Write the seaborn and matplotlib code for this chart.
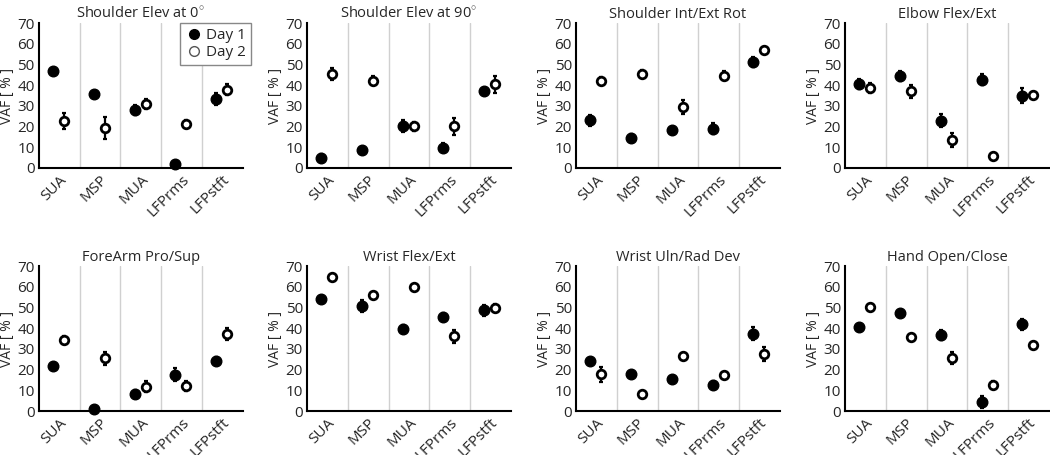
import matplotlib
matplotlib.use("Agg")
import matplotlib.pyplot as plt
import matplotlib.transforms as mtransforms
from matplotlib.lines import Line2D
import pandas as pd
import seaborn as sns

signals = ["SUA", "MSP", "MUA", "LFPrms", "LFPstft"]
titles = [
    r"Shoulder Elev at 0$^{\circ}$",
    r"Shoulder Elev at 90$^{\circ}$",
    "Shoulder Int/Ext Rot",
    "Elbow Flex/Ext",
    "ForeArm Pro/Sup",
    "Wrist Flex/Ext",
    "Wrist Uln/Rad Dev",
    "Hand Open/Close",
]

# mean VAF per panel, one entry per signal
day1_vaf = [
    [47.0, 35.8, 27.9, 2.1, 33.5],
    [5.0, 8.8, 20.4, 9.9, 37.1],
    [23.0, 14.6, 18.2, 19.1, 51.2],
    [40.5, 44.4, 22.9, 42.8, 35.0],
    [22.0, 0.8, 8.1, 17.6, 24.4],
    [54.2, 50.8, 39.9, 45.5, 48.7],
    [24.1, 17.7, 15.5, 12.5, 37.4],
    [40.7, 47.4, 36.9, 4.3, 41.9],
]
day1_err = [
    [0.5, 0.5, 2.5, 0.5, 3.0],
    [2.0, 0.5, 3.0, 2.0, 0.5],
    [2.5, 2.0, 0.5, 2.5, 2.5],
    [2.5, 2.5, 3.0, 2.5, 3.5],
    [0.5, 0.5, 2.0, 3.0, 1.5],
    [1.5, 3.0, 1.5, 2.0, 2.5],
    [0.5, 0.5, 0.5, 2.0, 3.0],
    [0.5, 0.5, 2.5, 3.0, 2.5],
]
day2_vaf = [
    [22.7, 19.4, 31.1, 21.4, 37.9],
    [45.4, 42.3, 20.1, 20.1, 40.5],
    [42.3, 45.7, 29.5, 44.7, 57.0],
    [38.7, 37.1, 13.6, 5.7, 35.3],
    [34.2, 25.4, 11.8, 12.1, 37.2],
    [64.9, 56.2, 60.2, 36.1, 50.0],
    [17.7, 8.3, 26.8, 17.3, 27.5],
    [50.3, 35.9, 25.7, 12.8, 31.8],
]
day2_err = [
    [3.9, 5.5, 2.5, 2.0, 2.5],
    [3.0, 2.0, 2.0, 4.0, 4.0],
    [1.5, 1.5, 3.5, 2.0, 1.5],
    [2.5, 3.0, 3.5, 0.5, 1.5],
    [2.0, 3.0, 2.5, 2.5, 3.0],
    [0.5, 0.5, 0.5, 3.0, 2.0],
    [3.5, 1.0, 1.5, 1.0, 3.5],
    [0.5, 0.5, 3.0, 1.5, 1.0],
]

sns.set_style("ticks")
plt.rcParams["font.family"] = ["Open Sans", "DejaVu Sans"]
plt.rcParams["mathtext.fontset"] = "custom"
plt.rcParams["mathtext.rm"] = "Open Sans"

fig = plt.figure(figsize=(10.5, 4.55), dpi=100)
lefts = [0.0371, 0.2924, 0.5486, 0.8048]
bottoms = [0.6308, 0.0967]
w, h = 0.194, 0.318

for i, title in enumerate(titles):
    ax = fig.add_axes([lefts[i % 4], bottoms[i // 4], w, h])
    d1 = pd.DataFrame({"x": [k - 0.15 for k in range(5)], "vaf": day1_vaf[i], "err": day1_err[i]})
    d2 = pd.DataFrame({"x": [k + 0.12 for k in range(5)], "vaf": day2_vaf[i], "err": day2_err[i]})

    for b in [0.5, 1.5, 2.5, 3.5]:
        ax.axvline(b, color="#d0d0d0", lw=1.0, zorder=0)

    for d in (d1, d2):
        ax.errorbar(d["x"], d["vaf"], yerr=d["err"], fmt="none", ecolor="black",
                    elinewidth=1.6, capsize=1.6, capthick=1.6, zorder=2, clip_on=False)
    sns.scatterplot(data=d1, x="x", y="vaf", color="black", edgecolor="black",
                    s=58, linewidth=1, zorder=3, ax=ax, clip_on=False)
    sns.scatterplot(data=d2, x="x", y="vaf", color="white", edgecolor="black",
                    s=38, linewidth=2, zorder=3, ax=ax, clip_on=False)

    ax.set_xlim(-0.5, 4.5)
    ax.set_ylim(0, 70)
    ax.set_yticks(range(0, 71, 10))
    ax.set_xticks(range(5))
    ax.set_xticklabels(signals, rotation=45, ha="right", rotation_mode="anchor", fontsize=11)
    offset = mtransforms.ScaledTranslation(7 / 100, -2 / 100, fig.dpi_scale_trans)
    for lbl in ax.get_xticklabels():
        lbl.set_transform(lbl.get_transform() + offset)
    ax.tick_params(axis="y", length=0, labelsize=11, pad=3)
    ax.tick_params(axis="x", length=0, pad=3)
    ax.set_xlabel("")
    ax.set_ylabel("VAF [ % ]", fontsize=10, labelpad=2)
    ax.set_title(title, fontsize=10.5, pad=4)
    for s in ("left", "bottom"):
        ax.spines[s].set_linewidth(1.5)
        ax.spines[s].set_color("black")
    sns.despine(ax=ax)

    if i == 0:
        handles = [
            Line2D([], [], marker="o", ls="none", color="black", markersize=7),
            Line2D([], [], marker="o", ls="none", markerfacecolor="white",
                   markeredgecolor="#555555", markeredgewidth=1, markersize=7),
        ]
        leg = ax.legend(handles, ["Day 1", "Day 2"], loc="upper right",
                        bbox_to_anchor=(1.04, 1.0), fontsize=11, frameon=True,
                        fancybox=False, edgecolor="#888888", framealpha=1,
                        handletextpad=0.2, borderpad=0.3, labelspacing=0.15,
                        handlelength=1.2, borderaxespad=0)
        leg.get_frame().set_linewidth(1.0)

fig.savefig("out.png", dpi=100, facecolor="white")
